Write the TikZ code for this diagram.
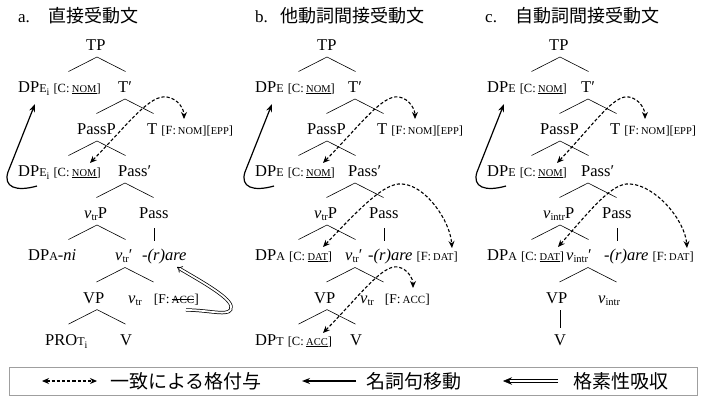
\documentclass[tikz,border=0pt]{standalone}
\usepackage{fontspec}
\setmainfont{Liberation Serif}
\newfontfamily\jp{Noto Sans CJK JP}
\usetikzlibrary{arrows.meta}
\newcommand\sm[1]{{\fontsize{10.5}{10.5}\selectfont #1}}
\newcommand\ft[1]{{\fontsize{12.5}{12.5}\selectfont #1}}
\newcommand\lab[1]{{\fontsize{12}{12}\selectfont #1}}
\newcommand\sbi{\raisebox{-3pt}{\fontsize{10}{10}\selectfont i}}
\newcommand\strk[1]{\setbox0\hbox{#1}\rlap{\rule[3pt]{\wd0}{0.8pt}}\box0}
\newcommand\vsub[1]{\textit{v}\raisebox{-2.5pt}{\fontsize{10.5}{10.5}\selectfont #1}}
\newcommand\nomU{\ft{[C:\hspace{2.5pt}\underline{\sm{NOM}}]}}
\newcommand\tri[2]{\draw[branch] (#1-28.5,#2+14.5) -- (#1,#2) -- (#1+28.5,#2+14.5);}
\begin{document}
\begin{tikzpicture}[x=1pt,y=-1pt,
  lbl/.style={inner sep=0,anchor=base west,font=\fontsize{16.5}{16.5}\selectfont},
  ttl/.style={inner sep=0,anchor=base west,font=\fontsize{17}{17}\selectfont},
  jttl/.style={inner sep=0,anchor=base west,font=\jp\fontsize{18}{18}\selectfont},
  jleg/.style={inner sep=0,anchor=west,font=\jp\fontsize{19}{19}\selectfont},
  branch/.style={line width=0.6pt},
  agree/.style={line width=1.1pt,dash pattern=on 3.2pt off 2pt,
     {Stealth[length=7pt,width=6pt]}-{Stealth[length=7pt,width=6pt]}},
  move/.style={line width=1.2pt,-{Stealth[length=8pt,width=6pt]}},
  absorb/.style={draw=black,double=white,double distance=1.8pt,line width=0.75pt,-{Implies}},
  shaft/.style={line width=0.8pt}]
\useasboundingbox (0,0) rectangle (706,397);

% ---------- titles
\node[ttl] (ta) at (18,22) {a.};
\node[jttl] (tja) at (48,22) {直接受動文};
\node[ttl] (tb) at (255,22) {b.};
\node[jttl] (tjb) at (280,22) {他動詞間接受動文};
\node[ttl] (tc) at (485,22) {c.};
\node[jttl] (tjc) at (515,22) {自動詞間接受動文};

% ---------- tree a
\node[lbl] (aTP) at (86,50) {TP};
\node[lbl] (aDP1) at (18,92) {DP\lab{E}\sbi\ \nomU};
\node[lbl] (aT1) at (118,92) {T′};
\node[lbl] (aPassP) at (77,134) {PassP};
\node[lbl] (aT) at (147,134) {T \ft{[F:\hspace{2pt}\sm{NOM}][\sm{EPP}]}};
\node[lbl] (aDP2) at (18,176) {DP\lab{E}\sbi\ \nomU};
\node[lbl] (aPass1) at (118,176) {Pass′};
\node[lbl] (avP) at (84,218) {\vsub{tr}P};
\node[lbl] (aPass) at (139,218) {Pass};
\node[lbl] (aDPA) at (28,260) {DP\lab{A}-\textit{ni}};
\node[lbl] (av1) at (115,260) {\vsub{tr}′};
\node[lbl] (aare) at (142,260) {\textit{-(r)are}};
\node[lbl] (aVP) at (83,303) {VP};
\node[lbl] (av) at (128,303) {\vsub{tr}};
\node[inner sep=0,anchor=base east] (avf) at (199,303) {\fontsize{13.5}{13.5}\selectfont[F:\hspace{2pt}\strk{\fontsize{11}{11}\selectfont ACC}]};
\node[lbl] (aPRO) at (45,345) {PRO\lab{T}\sbi};
\node[lbl] (aV) at (120,345) {V};

% ---------- tree b
\node[lbl] (bTP) at (317,50) {TP};
\node[lbl] (bDP1) at (255,92) {DP\lab{E} \nomU};
\node[lbl] (bT1) at (348,92) {T′};
\node[lbl] (bPassP) at (307,134) {PassP};
\node[lbl] (bT) at (377,134) {T \ft{[F:\hspace{2pt}\sm{NOM}][\sm{EPP}]}};
\node[lbl] (bDP2) at (255,176) {DP\lab{E} \nomU};
\node[lbl] (bPass1) at (348,176) {Pass′};
\node[lbl] (bvP) at (314,218) {\vsub{tr}P};
\node[lbl] (bPass) at (369,218) {Pass};
\node[lbl] (bDPA) at (255,260) {DP\lab{A} \ft{[C:\hspace{2.5pt}\underline{\sm{DAT}}]}};
\node[lbl] (bv1) at (345,260) {\vsub{tr}′};
\node[lbl] (bare) at (368,260) {\textit{-(r)are} \ft{[F:\hspace{2pt}\sm{DAT}]}};
\node[lbl] (bVP) at (314,303) {VP};
\node[lbl] (bv) at (360,303) {\vsub{tr}};
\node[inner sep=0,anchor=base east] (bvf) at (430,303) {\fontsize{13.5}{13.5}\selectfont[F:\hspace{2pt}{\fontsize{11}{11}\selectfont ACC}]};
\node[lbl] (bDPT) at (255,345) {DP\lab{T} \ft{[C:\hspace{2.5pt}\underline{\sm{ACC}}]}};
\node[lbl] (bV) at (350,345) {V};

% ---------- tree c
\node[lbl] (cTP) at (549,50) {TP};
\node[lbl] (cDP1) at (487,92) {DP\lab{E} \nomU};
\node[lbl] (cT1) at (581,92) {T′};
\node[lbl] (cPassP) at (540,134) {PassP};
\node[lbl] (cT) at (610,134) {T \ft{[F:\hspace{2pt}\sm{NOM}][\sm{EPP}]}};
\node[lbl] (cDP2) at (487,176) {DP\lab{E} \nomU};
\node[lbl] (cPass1) at (581,176) {Pass′};
\node[lbl] (cvP) at (543,218) {\vsub{intr}P};
\node[lbl] (cPass) at (602,218) {Pass};
\node[lbl] (cDPA) at (487,260) {DP\lab{A} \ft{[C:\hspace{2.5pt}\underline{\sm{DAT}}]}};
\node[lbl] (cv1) at (566,260) {\vsub{intr}′};
\node[lbl] (care) at (604,260) {\textit{-(r)are} \ft{[F:\hspace{2pt}\sm{DAT}]}};
\node[lbl] (cVP) at (546,303) {VP};
\node[lbl] (cv) at (598,303) {\vsub{intr}};
\node[lbl,anchor=base] (cV) at (560,345) {V};

% ---------- branches
\foreach \ox in {0,230,463}{
  \begin{scope}[xshift=\ox pt]
    \tri{97}{57}
    \tri{125}{99}
    \tri{97}{141}
    \tri{125}{183}
    \tri{97}{225}
    \tri{125}{267.5}
    \draw[branch] (154,228) -- (154,241);
  \end{scope}}
\tri{97}{309.6}
\tri{327}{309.6}
\draw[branch] (560,310) -- (560,328);

% ---------- arrows tree a
\coordinate (aMt) at (37,186);
\coordinate (aMh) at (35,104);
\draw[move] (aMt) .. controls (16,192) and (3,187) .. (8,172) -- (aMh);
\coordinate (aN1) at (90,163);
\coordinate (aN2) at (184,119);
\draw[agree] (aN1) .. controls (128,124) and (150,94) .. (167,97) .. controls (179,99) and (184,110) .. (aN2);
\coordinate (aAt) at (186,310);
\coordinate (aAh) at (177,267);
\draw[absorb] (aAt) .. controls (212,310) and (233,318) .. (231,306) .. controls (229,296) and (195,278) .. (aAh);

% ---------- arrows tree b
\coordinate (bMt) at (274,186);
\coordinate (bMh) at (272,104);
\draw[move] (bMt) .. controls (253,192) and (240,187) .. (245,172) -- (bMh);
\coordinate (bN1) at (323,163);
\coordinate (bN2) at (415,119);
\draw[agree] (bN1) .. controls (361,124) and (383,94) .. (399,97) .. controls (410,99) and (415,110) .. (bN2);
\coordinate (bD1) at (323,247);
\coordinate (bD2) at (452,248);
\draw[agree] (bD1) .. controls (360,208) and (385,182) .. (402,184) .. controls (425,185) and (450,220) .. (bD2);
\coordinate (bA1) at (323,333);
\coordinate (bA2) at (413,288);
\draw[agree] (bA1) .. controls (361,294) and (383,264) .. (398,267) .. controls (408,269) and (413,279) .. (bA2);

% ---------- arrows tree c
\coordinate (cMt) at (506,186);
\coordinate (cMh) at (504,104);
\draw[move] (cMt) .. controls (485,192) and (472,187) .. (477,172) -- (cMh);
\coordinate (cN1) at (557,163);
\coordinate (cN2) at (645,119);
\draw[agree] (cN1) .. controls (594,124) and (614,94) .. (629,97) .. controls (640,99) and (645,110) .. (cN2);
\coordinate (cD1) at (558,247);
\coordinate (cD2) at (687,248);
\draw[agree] (cD1) .. controls (592,208) and (613,182) .. (630,184) .. controls (655,185) and (685,220) .. (cD2);

% ---------- legend
\draw[gray!75,line width=0.8pt] (9,367) rectangle (697,395);
\coordinate (l1a) at (42,381);
\coordinate (l1b) at (97,381);
\draw[agree] (l1a) -- (l1b);
\node[jleg] (lt1) at (110,381) {一致による格付与};
\coordinate (l2a) at (356,381);
\coordinate (l2b) at (302,381);
\draw[move] (l2a) -- (l2b);
\node[jleg] (lt2) at (366,381) {名詞句移動};
\coordinate (l3a) at (558,381);
\coordinate (l3m) at (509,381);
\coordinate (l3b) at (503,381);
\draw[shaft] ([yshift=1.3pt]l3a) -- ([yshift=1.3pt]l3m);
\draw[shaft] ([yshift=-1.3pt]l3a) -- ([yshift=-1.3pt]l3m);
\draw[line width=0.4pt,-{Stealth[length=9pt,width=7.5pt]}] (l3m) -- (l3b);
\node[jleg] (lt3) at (573,381) {格素性吸収};
\end{tikzpicture}
\end{document}
